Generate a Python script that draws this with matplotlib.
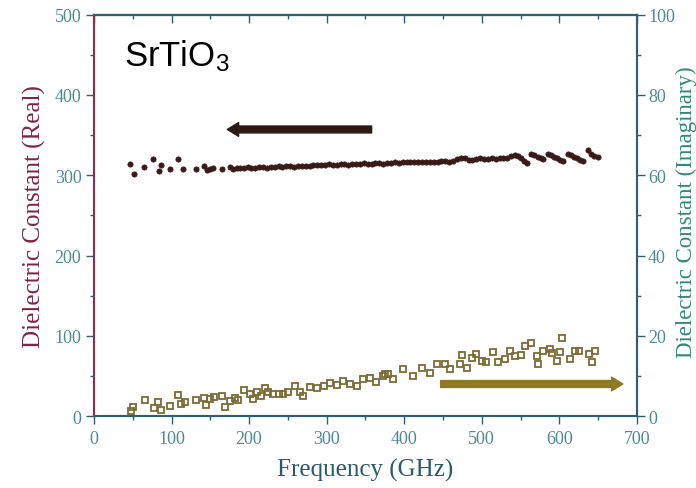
import matplotlib
matplotlib.use('Agg')
import matplotlib.pyplot as plt
from matplotlib.ticker import MultipleLocator

plt.rcParams['mathtext.fontset'] = 'custom'
plt.rcParams['mathtext.rm'] = 'Liberation Sans'
plt.rcParams['mathtext.it'] = 'Liberation Sans'

# Real part (left axis)
freq_real = [46, 51, 65, 76, 84, 87, 98, 109, 115, 131, 142, 146, 150, 153, 165, 175, 179, 184,
             188, 193, 198, 203, 208, 213, 218, 223, 228, 233, 238, 243, 248, 253, 258, 263, 268,
             273, 278, 283, 288, 293, 298, 303, 308, 313, 318, 323, 328, 333, 338, 343, 348, 353,
             358, 363, 368, 373, 378, 383, 388, 393, 398, 403, 408, 413, 418, 423, 428, 433, 438,
             443, 448, 453, 458, 463, 468, 473, 478, 483, 488, 493, 498, 503, 508, 513, 518, 523,
             528, 533, 538, 543, 547, 551, 555, 558,
             564, 568, 572, 576, 579, 585, 589, 593, 597, 601, 605, 611, 615, 619, 623, 627, 630,
             637, 641, 645, 650]
eps_real = [314, 301, 310, 320, 305, 313, 308, 320, 308, 308, 311, 307, 308, 309, 308, 310, 308, 309,
            309, 309, 310, 309, 309, 310, 310, 309, 310, 310, 311, 310, 311, 311, 310, 311, 311,
            311, 311, 313, 313, 313, 313, 314, 313, 313, 314, 314, 313, 314, 314, 314, 315, 314,
            314, 315, 315, 314, 315, 315, 316, 315, 316, 316, 316, 317, 316, 316, 317, 317, 317,
            317, 318, 318, 317, 318, 320, 321, 321, 319, 319, 320, 321, 320, 320, 321, 320, 322,
            321, 322, 324, 325, 324, 322, 318, 315,
            327, 325, 323, 321, 320, 327, 325, 323, 321, 319, 318, 327, 325, 323, 321, 319, 318,
            332, 326, 324, 323]

# Imaginary part (right axis)
freq_imag = [48, 50, 66, 77, 83, 87, 98, 109, 112, 117, 131, 142, 145, 150, 155, 165, 169, 175, 182,
             186, 194, 201, 205, 210, 216, 220, 225, 231, 238, 244, 250, 259, 266, 270, 279, 287,
             296, 304, 313, 321, 330, 339, 347, 356, 364, 373, 379,
             375, 386, 399, 412, 423, 433, 442, 453, 459, 472, 474, 481, 487, 493, 500, 506, 515,
             521, 530, 536, 543, 551, 556, 564, 571, 573, 579, 588, 590, 597, 603, 601, 614, 620,
             625, 638, 642, 646]
eps_imag = [1.3, 2.3, 4.1, 2.0, 3.4, 1.6, 2.6, 5.3, 3.0, 3.4, 4.1, 4.5, 2.8, 4.2, 4.7, 4.9, 2.2, 3.8, 4.5,
            4.1, 6.6, 5.5, 4.2, 5.9, 5.1, 6.9, 5.9, 5.5, 5.5, 5.5, 5.9, 7.4, 6.1, 5.1, 7.2, 6.9,
            7.4, 8.2, 7.7, 8.8, 8.0, 7.4, 9.2, 9.6, 8.4, 10.0, 10.6,
            10.5, 9.2, 11.7, 10.0, 12.1, 10.8, 12.9, 12.9, 11.7, 12.9, 15.2, 12.1, 14.6, 15.5, 13.8, 13.4, 16.0,
            13.4, 14.2, 16.3, 15.0, 15.2, 17.5, 18.2, 15.0, 13.0, 16.3, 16.7, 15.7, 13.8, 19.4, 15.9, 14.2, 16.3,
            16.3, 15.5, 13.4, 16.3]

xticks = [0, 100, 200, 300, 400, 500, 600, 700]
yticks_left = [0, 100, 200, 300, 400, 500]
yticks_right = [0, 20, 40, 60, 80, 100]

serif = ['Liberation Serif', 'DejaVu Serif']
tick_col = '#4f8a92'
left_col = '#7e2448'
right_col = '#2e8a7a'
xlab_col = '#2a5a66'
spine_col = '#2f5f70'

fig = plt.figure(figsize=(6.96, 4.89), dpi=100)
ax = fig.add_axes([0.135, 0.147, 0.780, 0.821])
ax2 = ax.twinx()

ax.plot(freq_real, eps_real, linestyle='none', marker='o', markersize=3.8,
        color='#3a1a18', markeredgewidth=0.5, zorder=3)
ax2.plot(freq_imag, eps_imag, linestyle='none', marker='s', markersize=3.8,
         markerfacecolor='none', markeredgecolor='#7d6b35', markeredgewidth=1.3, zorder=3)

ax.set_xlim(0, 700)
ax.set_ylim(0, 500)
ax2.set_ylim(0, 100)

ax.set_xticks(xticks)
ax.set_yticks(yticks_left)
ax2.set_yticks(yticks_right)
ax.xaxis.set_minor_locator(MultipleLocator(50))
ax.yaxis.set_minor_locator(MultipleLocator(50))
ax2.yaxis.set_minor_locator(MultipleLocator(10))

ax.tick_params(axis='x', which='both', direction='out', top=False, colors=spine_col,
               labelcolor=tick_col, labelsize=13, pad=4)
ax.tick_params(axis='y', which='both', direction='out', right=False, colors=spine_col,
               labelcolor=tick_col, labelsize=13, pad=3)
ax2.tick_params(axis='y', which='both', direction='out', colors=spine_col,
                labelcolor=tick_col, labelsize=13, pad=2)
for a in (ax, ax2):
    a.tick_params(which='major', length=6, width=1)
    a.tick_params(which='minor', length=3, width=1)

for lab in ax.get_xticklabels() + ax.get_yticklabels() + ax2.get_yticklabels():
    lab.set_family(serif)

secx = ax.secondary_xaxis('top')
secx.set_xticks(xticks)
secx.xaxis.set_minor_locator(MultipleLocator(50))
secx.tick_params(which='both', direction='in', labeltop=False, colors=spine_col)
secx.tick_params(which='major', length=6, width=1)
secx.tick_params(which='minor', length=3, width=1)
secx.spines['top'].set_color(spine_col)
secx.spines['top'].set_linewidth(1.5)

for a in (ax, ax2):
    for s in a.spines.values():
        s.set_linewidth(1.5)
        s.set_color(spine_col)
ax2.spines['left'].set_color('#8a3050')

ax.set_xlabel('Frequency (GHz)', family=serif, fontsize=18, color=xlab_col, labelpad=8)
ax.set_ylabel('Dielectric Constant (Real)', family=serif, fontsize=18, color=left_col, labelpad=6)
fig.text(0.986, 0.567, 'Dielectric Constant (Imaginary)', family=serif, fontsize=16.5,
         color=right_col, rotation=90, ha='center', va='center')

ax.text(0.055, 0.9, 'SrTiO$_3$', transform=ax.transAxes, fontsize=25,
        family=['Liberation Sans', 'DejaVu Sans'], color='black', va='center', ha='left')

ax.annotate('', xy=(172, 357), xytext=(358, 357),
            arrowprops=dict(arrowstyle='simple,head_length=0.9,head_width=1.1,tail_width=0.55',
                            color='#2a1a12', mutation_scale=9, shrinkA=0, shrinkB=0), zorder=4)
ax.annotate('', xy=(682, 40), xytext=(447, 40),
            arrowprops=dict(arrowstyle='simple,head_length=0.9,head_width=1.1,tail_width=0.55',
                            color='#8e7a22', mutation_scale=9, shrinkA=0, shrinkB=0), zorder=4)

fig.savefig('out.png', dpi=100)
